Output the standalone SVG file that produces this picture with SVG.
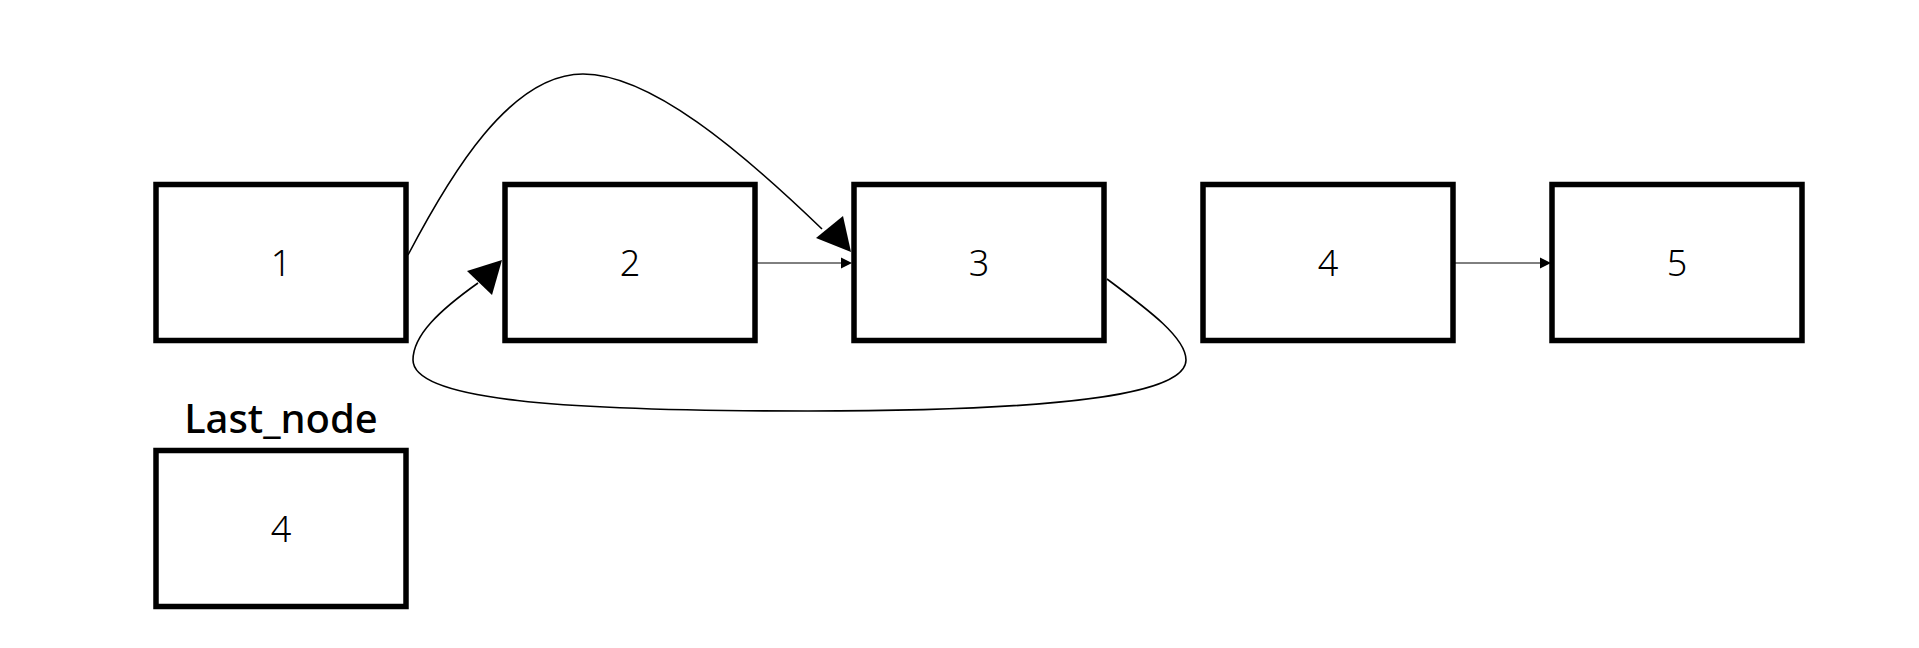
<svg xmlns="http://www.w3.org/2000/svg" width="1919" height="648" viewBox="0 0 1919 648">
  <style>
    .box { fill: #fff; stroke: #000; stroke-width: 5.5; }
    .num { font-family: "Noto Sans", "Open Sans", sans-serif; font-size: 36px; font-weight: 300; text-anchor: middle; fill: #000; }
    .lbl { font-family: "Noto Sans", "Open Sans", sans-serif; font-size: 40px; font-weight: 500; text-anchor: middle; fill: #000; }
    .edge { fill: none; stroke: #000; stroke-width: 1.6; }
    .thin { fill: none; stroke: #000; stroke-width: 1; }
    .head { fill: #000; stroke: none; }
  </style>
  <rect width="1919" height="648" fill="#fff"/>
  <g id="edges">
    <path class="edge" d="M408,255 C450,175 510,74 583,74 C650,74 740,150 822,229"/>
    <polygon class="head" points="816,238 843,216 851,252"/>
    <path class="edge" d="M1107,279 C1150,311 1186,338 1186,360 C1186,392 1080,411 808,411 C560,411 413,400 413,360 C413,335 440,310 478,283"/>
    <polygon class="head" points="467,271 492,295 502,260"/>
    <line class="thin" x1="757" y1="263" x2="842" y2="263"/>
    <polygon class="head" points="852,263 841,257.5 841,268.5"/>
    <line class="thin" x1="1455" y1="263" x2="1540" y2="263"/>
    <polygon class="head" points="1551,263 1540,257.5 1540,268.5"/>
  </g>
  <g id="node1">
    <rect class="box" x="156" y="184.5" width="250" height="156"/>
    <text class="num" x="281" y="276">1</text>
  </g>
  <g id="node2">
    <rect class="box" x="505" y="184.5" width="250" height="156"/>
    <text class="num" x="630" y="276">2</text>
  </g>
  <g id="node3">
    <rect class="box" x="854" y="184.5" width="250" height="156"/>
    <text class="num" x="979" y="276">3</text>
  </g>
  <g id="node4">
    <rect class="box" x="1203" y="184.5" width="250" height="156"/>
    <text class="num" x="1328" y="276">4</text>
  </g>
  <g id="node5">
    <rect class="box" x="1552" y="184.5" width="250" height="156"/>
    <text class="num" x="1677" y="276">5</text>
  </g>
  <g id="last_node">
    <text class="lbl" x="281" y="433">Last_node</text>
    <rect class="box" x="156" y="450.5" width="250" height="156"/>
    <text class="num" x="281" y="542">4</text>
  </g>
</svg>
